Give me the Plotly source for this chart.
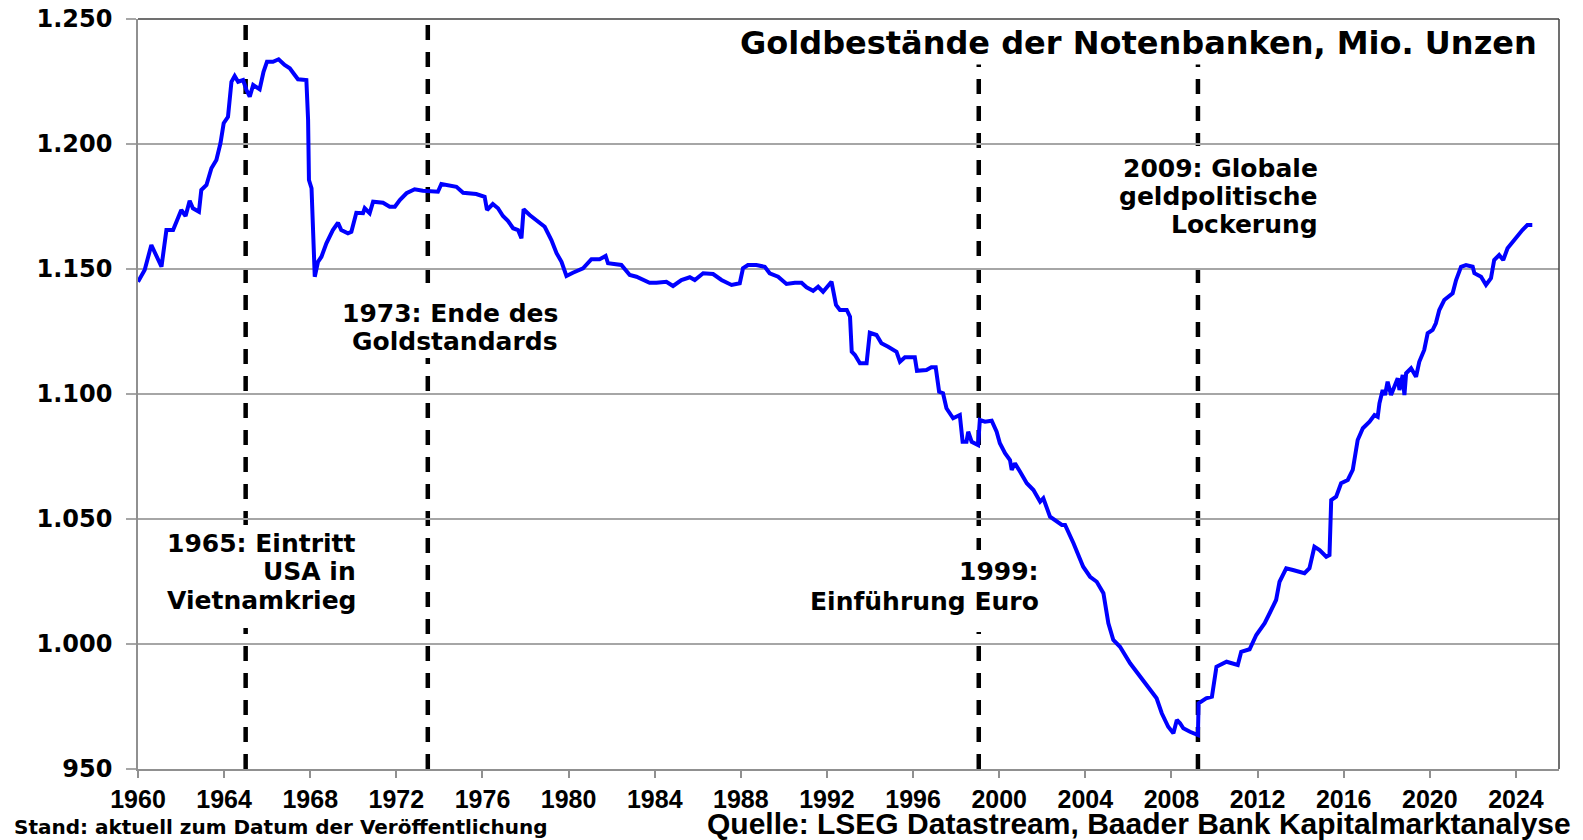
import plotly.graph_objects as go

# ---- data ----
years = [
    1960.00, 1960.31, 1960.62, 1960.72, 1961.09, 1961.32, 1961.63, 1962.01, 1962.21, 1962.40,
    1962.55, 1962.83, 1962.94, 1963.18, 1963.41, 1963.64, 1963.83, 1963.98, 1964.18, 1964.34,
    1964.49, 1964.65, 1964.88, 1965.04, 1965.19, 1965.35, 1965.65, 1965.83, 1965.99, 1966.27,
    1966.53, 1966.81, 1967.05, 1967.28, 1967.43, 1967.82, 1967.90, 1967.94, 1968.06, 1968.21,
    1968.36, 1968.52, 1968.75, 1969.05, 1969.29, 1969.44, 1969.75, 1969.91, 1970.14, 1970.45,
    1970.53, 1970.76, 1970.92, 1971.38, 1971.69, 1971.93, 1972.16, 1972.47, 1972.85, 1973.23,
    1973.93, 1974.09, 1974.79, 1975.10, 1975.71, 1976.10, 1976.21, 1976.48, 1976.72, 1976.95,
    1977.18, 1977.42, 1977.65, 1977.81, 1977.91, 1978.19, 1978.51, 1978.89, 1979.20, 1979.44,
    1979.67, 1979.90, 1980.20, 1980.67, 1981.06, 1981.44, 1981.72, 1981.83, 1982.45, 1982.84,
    1983.15, 1983.76, 1984.08, 1984.54, 1984.85, 1985.24, 1985.63, 1985.86, 1986.25, 1986.71,
    1987.10, 1987.57, 1987.95, 1988.10, 1988.33, 1988.72, 1989.11, 1989.34, 1989.73, 1990.12,
    1990.51, 1990.82, 1991.05, 1991.36, 1991.59, 1991.82, 1992.21, 1992.42, 1992.60, 1992.92,
    1993.07, 1993.15, 1993.30, 1993.53, 1993.84, 1993.99, 1994.30, 1994.53, 1994.84, 1995.23,
    1995.39, 1995.62, 1996.08, 1996.18, 1996.62, 1996.85, 1997.05, 1997.21, 1997.39, 1997.55,
    1997.86, 1998.17, 1998.30, 1998.48, 1998.56, 1998.72, 1999.02, 1999.10, 1999.34, 1999.65,
    1999.88, 2000.03, 2000.27, 2000.50, 2000.58, 2000.73, 2000.97, 2001.28, 2001.59, 2001.90,
    2002.05, 2002.36, 2002.91, 2003.06, 2003.45, 2003.90, 2004.22, 2004.53, 2004.84, 2005.07,
    2005.30, 2005.61, 2006.08, 2006.55, 2007.00, 2007.31, 2007.55, 2007.85, 2008.09, 2008.25,
    2008.40, 2008.55, 2008.86, 2009.23, 2009.26, 2009.61, 2009.88, 2010.09, 2010.56, 2011.08,
    2011.24, 2011.63, 2011.94, 2012.33, 2012.56, 2012.86, 2013.02, 2013.33, 2013.64, 2014.18,
    2014.41, 2014.64, 2014.88, 2015.19, 2015.34, 2015.42, 2015.65, 2015.88, 2016.19, 2016.42,
    2016.65, 2016.89, 2017.20, 2017.43, 2017.58, 2017.66, 2017.81, 2017.92, 2018.04, 2018.20,
    2018.51, 2018.59, 2018.74, 2018.82, 2018.90, 2019.13, 2019.36, 2019.51, 2019.74, 2019.90,
    2020.13, 2020.28, 2020.44, 2020.67, 2021.06, 2021.22, 2021.45, 2021.68, 2021.99, 2022.07,
    2022.38, 2022.61, 2022.84, 2022.99, 2023.22, 2023.41, 2023.61, 2023.84, 2024.07, 2024.30,
    2024.53, 2024.76,
]
gold_moz = [
    1144.9, 1149.6, 1159.6, 1157.6, 1150.9, 1165.6, 1165.6, 1173.6, 1171.2, 1177.3,
    1174.3, 1172.9, 1181.6, 1183.6, 1190.3, 1193.6, 1200.3, 1208.3, 1210.9, 1224.9,
    1227.2, 1224.9, 1225.6, 1221.6, 1218.9, 1223.6, 1221.9, 1228.9, 1232.9, 1232.9,
    1233.9, 1231.6, 1230.3, 1227.6, 1225.9, 1225.6, 1209.6, 1185.6, 1182.3, 1146.9,
    1152.9, 1154.9, 1160.3, 1165.6, 1168.5, 1165.6, 1164.3, 1164.9, 1172.5, 1172.3,
    1174.3, 1172.3, 1176.9, 1176.5, 1174.9, 1174.9, 1177.6, 1180.3, 1181.9, 1181.3,
    1180.9, 1184.0, 1182.9, 1180.5, 1180.0, 1178.9, 1173.6, 1176.0, 1174.3, 1171.2,
    1169.3, 1166.3, 1165.6, 1162.3, 1173.9, 1171.6, 1169.6, 1166.9, 1161.6, 1156.3,
    1152.9, 1147.2, 1148.5, 1150.3, 1153.9, 1153.9, 1155.2, 1152.3, 1151.6, 1147.6,
    1146.9, 1144.5, 1144.5, 1144.9, 1143.2, 1145.6, 1146.7, 1145.6, 1148.3, 1148.0,
    1145.6, 1143.6, 1144.3, 1150.3, 1151.6, 1151.6, 1150.9, 1148.3, 1146.9, 1144.0,
    1144.5, 1144.5, 1142.7, 1141.3, 1142.9, 1140.9, 1144.9, 1135.6, 1133.6, 1133.6,
    1130.9, 1116.9, 1115.6, 1112.3, 1112.3, 1124.5, 1123.6, 1120.3, 1118.9, 1116.9,
    1112.9, 1114.7, 1114.7, 1109.3, 1109.6, 1110.7, 1110.7, 1100.9, 1100.3, 1094.3,
    1090.3, 1091.6, 1080.9, 1080.9, 1084.9, 1080.9, 1079.6, 1089.6, 1088.9, 1089.3,
    1084.9, 1080.3, 1076.3, 1073.6, 1069.6, 1072.3, 1068.9, 1064.3, 1061.6, 1056.9,
    1058.3, 1050.9, 1047.6, 1047.6, 1040.3, 1030.9, 1026.9, 1024.9, 1020.3, 1008.3,
    1001.6, 998.9, 992.3, 986.9, 981.6, 978.3, 972.3, 966.9, 964.3, 969.6,
    968.3, 966.3, 964.9, 963.6, 976.3, 978.3, 978.9, 990.9, 992.9, 991.6,
    996.9, 997.9, 1003.6, 1008.3, 1012.3, 1017.6, 1024.9, 1030.3, 1029.6, 1028.3,
    1030.3, 1038.9, 1037.6, 1034.9, 1035.6, 1057.6, 1058.9, 1064.3, 1065.6, 1069.6,
    1081.6, 1086.3, 1088.9, 1091.6, 1090.9, 1096.3, 1101.6, 1099.6, 1104.9, 1099.6,
    1106.3, 1101.6, 1107.6, 1099.6, 1108.3, 1110.3, 1106.9, 1112.9, 1117.6, 1124.3,
    1125.6, 1128.3, 1133.6, 1137.6, 1140.3, 1145.6, 1150.9, 1151.6, 1150.9, 1148.3,
    1146.9, 1143.6, 1146.3, 1153.6, 1155.6, 1153.6, 1158.3, 1160.9, 1163.6, 1165.6,
    1167.6, 1167.6,
]

event_years = [1965.0, 1973.46, 1999.05, 2009.23]

x_tickvals = list(range(1960, 2025, 4))
y_tickvals = [950, 1000, 1050, 1100, 1150, 1200, 1250]
y_ticktext = ["950", "1.000", "1.050", "1.100", "1.150", "1.200", "1.250"]

title_text = "Goldbestände der Notenbanken, Mio. Unzen"
source_text = "Quelle: LSEG Datastream, Baader Bank Kapitalmarktanalyse"
note_text = "Stand: aktuell zum Datum der Veröffentlichung"

# annotation lines: (text, x right edge in years, y value)
event_labels = [
    ("1965: Eintritt", 1970.20, 1040.4),
    ("USA in", 1970.20, 1029.2),
    ("Vietnamkrieg", 1970.20, 1017.4),
    ("1973: Ende des", 1979.58, 1132.4),
    ("Goldstandards", 1979.58, 1121.2),
    ("1999:", 2001.95, 1028.9),
    ("Einführung Euro", 2001.95, 1016.9),
    ("2009: Globale", 2014.88, 1190.4),
    ("geldpolitische", 2014.88, 1179.2),
    ("Lockerung", 2014.88, 1168.0),
]
# white backing boxes of the text blocks: (x0, x1, y0, y1)
label_boxes = [
    (1960.78, 1970.39, 1006.4, 1047.6),
    (1969.37, 1979.67, 1114.4, 1140.4),
    (1990.86, 2002.53, 1004.8, 1037.6),
    (2005.18, 2015.03, 1154.8, 1199.2),
]

WIDE = "DejaVu Sans"
NARROW = "Liberation Sans"

fig = go.Figure()
fig.add_trace(go.Scatter(
    x=years, y=gold_moz, mode="lines",
    line=dict(color="#0000ff", width=4),
    showlegend=False, hoverinfo="skip",
))

for ey in event_years:
    fig.add_shape(type="line", xref="x", yref="paper", x0=ey, x1=ey, y0=0, y1=1,
                  line=dict(color="black", width=4.5, dash="15px,12px"), layer="between")

for bx0, bx1, by0, by1 in label_boxes:
    fig.add_shape(type="rect", xref="x", yref="y", x0=bx0, x1=bx1, y0=by0, y1=by1,
                  fillcolor="white", line=dict(width=0), layer="between")

# frame top/right
fig.add_shape(type="line", xref="paper", yref="paper", x0=0, x1=1, y0=1, y1=1,
              line=dict(color="#404040", width=1.5), layer="above")
fig.add_shape(type="line", xref="paper", yref="paper", x0=1, x1=1, y0=0, y1=1,
              line=dict(color="#404040", width=1.5), layer="above")

for txt, ax, ay in event_labels:
    fig.add_annotation(x=ax, y=ay, xref="x", yref="y", text="<b>%s</b>" % txt,
                       showarrow=False, xanchor="right", yanchor="middle", align="right",
                       font=dict(family=WIDE, size=25, color="black"))

fig.add_annotation(x=2025.10, y=1240.6, xref="x", yref="y", text="<b>%s</b>" % title_text,
                   showarrow=False, xanchor="right", yanchor="middle", bgcolor="white",
                   borderpad=2, font=dict(family=WIDE, size=32, color="black"))

fig.add_annotation(x=1.0099, y=-0.072, xref="paper", yref="paper", text="<b>%s</b>" % source_text,
                   showarrow=False, xanchor="right", yanchor="middle",
                   font=dict(family=NARROW, size=30, color="black"))
fig.add_annotation(x=-0.0889, y=-0.0773, xref="paper", yref="paper", text="<b>%s</b>" % note_text,
                   showarrow=False, xanchor="left", yanchor="middle",
                   font=dict(family=WIDE, size=20, color="black"))

fig.update_layout(
    width=1583, height=840,
    margin=dict(l=138, r=24, t=19, b=71, autoexpand=False),
    paper_bgcolor="white", plot_bgcolor="white",
    showlegend=False,
)
fig.update_xaxes(
    range=[1960, 2026], tickvals=x_tickvals, ticktext=[str(v) for v in x_tickvals],
    showgrid=False, zeroline=False,
    showline=True, linecolor="#909090", linewidth=1.5,
    ticks="outside", ticklen=7, tickwidth=1.5, tickcolor="#909090",
    ticklabelstandoff=0,
    tickfont=dict(family=NARROW, size=25, color="black", weight="bold"),
)
fig.update_yaxes(
    range=[950, 1250], tickvals=y_tickvals, ticktext=y_ticktext,
    showgrid=True, gridcolor="#a6a6a6", gridwidth=1.5, zeroline=False,
    showline=True, linecolor="#909090", linewidth=1.5,
    ticks="outside", ticklen=10, tickwidth=1.5, tickcolor="#a6a6a6",
    ticklabelstandoff=9,
    tickfont=dict(family=WIDE, size=24, color="black", weight="bold"),
)

fig.write_html("out.html", config={"displayModeBar": False},
               post_script="document.body.style.margin='0px';")
